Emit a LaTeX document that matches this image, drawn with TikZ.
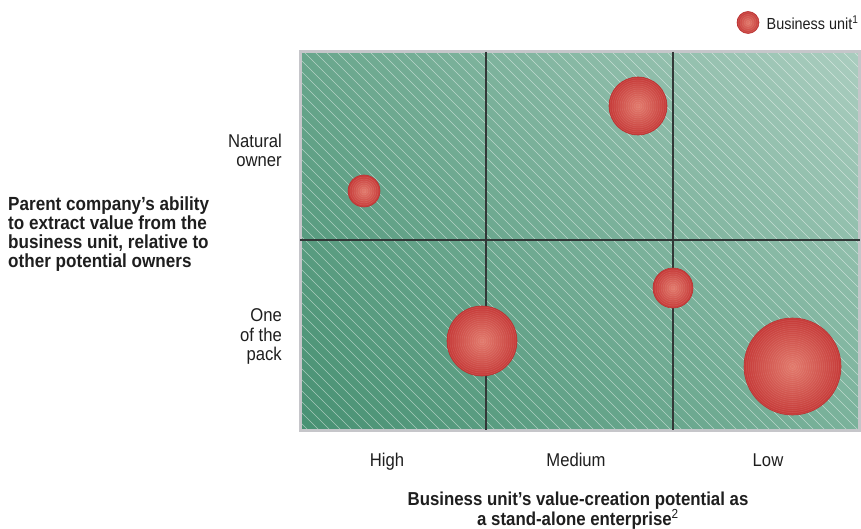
\documentclass[tikz,border=0pt]{standalone}
\usepackage{fontspec}
\setmainfont{Liberation Sans}[FakeStretch=0.9]
\usetikzlibrary{shadings}
\definecolor{bgLL}{RGB}{72,145,115}
\definecolor{bgUL}{RGB}{104,166,140}
\definecolor{bgLR}{RGB}{122,178,155}
\definecolor{bgUR}{RGB}{170,205,191}
\definecolor{boxGray}{RGB}{198,198,202}
\definecolor{gridDark}{RGB}{50,55,55}
\definecolor{bubIn}{RGB}{226,122,108}
\definecolor{bubOut}{RGB}{198,58,56}
\definecolor{bubEdge}{RGB}{185,50,50}
\definecolor{txt}{RGB}{30,30,30}
\begin{document}
\begin{tikzpicture}[x=1pt,y=-1pt,
  bubble/.style={circle, inner sep=0pt, minimum size=#1, shade, inner color=bubIn, outer color=bubOut,
    draw=bubEdge, line width=0.6pt,
    path picture={\foreach \r in {2,4,...,50}{\draw[white, opacity=0.11, line width=0.5pt] (path picture bounding box.center) circle (\r pt);}}},
  gridline/.style={draw=gridDark, line width=1.5pt},
  stripe/.style={draw=white, opacity=0.5, line width=0.6pt},
  ticklab/.style={font=\fontsize{18.5}{22}\selectfont, inner sep=0pt, anchor=base, text=txt},
  rowlab/.style={font=\fontsize{18.5}{19.6}\selectfont, align=right, inner sep=0pt, anchor=north east, text=txt},
  axistitle/.style={font=\bfseries\fontsize{19}{18.9}\selectfont, inner sep=0pt, text=txt}
]
\useasboundingbox (0,0) rectangle (861,529);
% plot area
\coordinate (boxNW) at (300,52);
\coordinate (boxSE) at (859.5,430);
\shade[upper left=bgUL, upper right=bgUR, lower left=bgLL, lower right=bgLR] (boxNW) rectangle (boxSE);
\begin{scope}
  \clip (boxNW) rectangle (boxSE);
  \foreach \s in {-400,-389,...,870}{
    \draw[stripe] (\s,52) -- ++(380,380);
  }
\end{scope}
\draw[draw=boxGray, line width=3pt] (boxNW) rectangle (boxSE);
% grid
\coordinate (v1t) at (486,52);  \coordinate (v1b) at (486,430);
\coordinate (v2t) at (673,52);  \coordinate (v2b) at (673,430);
\coordinate (hl) at (300,240);  \coordinate (hr) at (859.5,240);
\draw[gridline] (v1t) -- (v1b);
\draw[gridline] (v2t) -- (v2b);
\draw[gridline] (hl) -- (hr);
% bubbles
\node[bubble=58pt] (buA) at (638,106) {};
\node[bubble=32pt] (buB) at (364,191) {};
\node[bubble=40pt] (buC) at (673,288) {};
\node[bubble=70pt] (buD) at (482,341) {};
\node[bubble=97pt] (buE) at (792.5,366.5) {};
% legend
\node[bubble=22pt] (legDot) at (748,22.5) {};
\node[anchor=base west, inner sep=0pt, font=\fontsize{16}{18}\selectfont, text=txt] (legTxt) at (766.5,29.3) {Business unit\textsuperscript{1}};
% row labels
\node[rowlab] (natural) at (282,133.5) {Natural\\owner};
\node[rowlab] (pack) at (282,308.5) {One\\of the\\pack};
\node[axistitle, anchor=north west, align=left] (ytitle) at (8,196.4)
  {Parent company’s ability\\to extract value from the\\business unit, relative to\\other potential owners};
% column labels
\node[ticklab] (high) at (387,466) {High};
\node[ticklab] (medium) at (576,466) {Medium};
\node[ticklab] (low) at (768,466) {Low};
\node[axistitle, anchor=north, align=center, font=\bfseries\fontsize{18.7}{20}\selectfont] (xtitle) at (578,491.5)
  {Business unit’s value-creation potential as\\a stand-alone enterprise\textsuperscript{\mdseries 2}};
\end{tikzpicture}
\end{document}
